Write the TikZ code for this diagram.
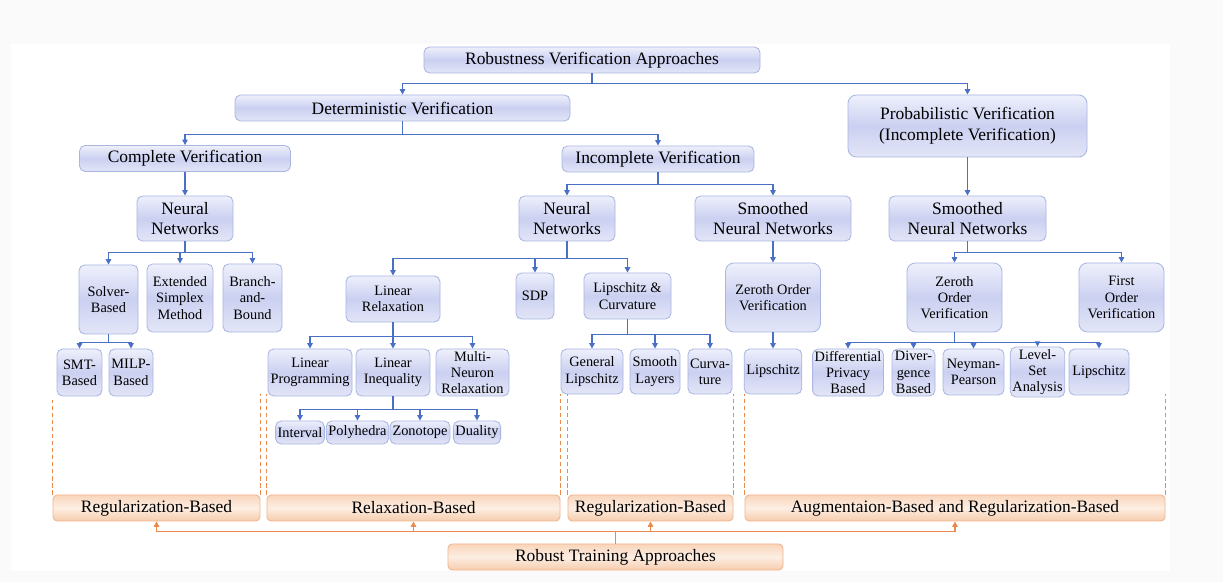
\documentclass[tikz,border=0pt]{standalone}
\usepackage{fontspec}
\setmainfont{Liberation Serif}
\usetikzlibrary{arrows.meta}
\definecolor{vline}{HTML}{A9B6E2}
\definecolor{vtop}{HTML}{EEF0FB}
\definecolor{vmid}{HTML}{CBD0F1}
\definecolor{vbot}{HTML}{E3E6F7}
\definecolor{vflow}{HTML}{4A70C6}
\definecolor{tline}{HTML}{F0B48C}
\definecolor{ttop}{HTML}{F8D5BB}
\definecolor{tmid}{HTML}{FDEEE3}
\definecolor{tbot}{HTML}{F6CCAC}
\definecolor{tflow}{HTML}{EC8A4E}

\begin{document}
\begin{tikzpicture}[
    x=0.025cm, y=-0.025cm,
    sz/.style 2 args={minimum width=#1*0.025cm, minimum height=#2*0.025cm},
    vb/.style={draw=vline, line width=0.6pt, rounded corners=4pt, top color=vtop, bottom color=vbot, middle color=vmid, align=center, inner sep=1.5pt, font=\fontsize{12.4}{14.8}\selectfont},
    sm/.style={font=\fontsize{10.2}{11.6}\selectfont},
    tb/.style={draw=tline, line width=0.6pt, rounded corners=3pt, top color=ttop, bottom color=tbot, middle color=tmid, align=center, inner sep=1.5pt, font=\fontsize{12.4}{14.8}\selectfont},
    arrow/.style={-{Triangle[length=3.8pt,width=3.8pt]}, draw=vflow, line width=0.9pt},
    tarrow/.style={-{Triangle[length=3.8pt,width=3.8pt]}, draw=tflow, line width=0.9pt},
    guide/.style={draw=tflow, line width=0.6pt, dash pattern=on 3pt off 2pt},
]
\fill[black!2] (0,0) rectangle (1223,582);
\fill[white] (11,44) rectangle (1170,571);

\node[vb, sz={336}{26}] (RVA) at (592,60) {Robustness Verification Approaches};
\node[vb, sz={335}{26}] (DV) at (402.5,108) {Deterministic Verification};
\node[vb, sz={239}{62}, rounded corners=6pt] (PV) at (967.5,126) {Probabilistic Verification\\(Incomplete Verification)};
\node[vb, sz={211}{26}] (CV) at (185,158.5) {Complete Verification};
\node[vb, sz={192}{26}] (IV) at (658,159) {Incomplete Verification};
\node[vb, sz={96}{45}] (NN1) at (185,218.5) {Neural\\Networks};
\node[vb, sz={96}{45}] (NN2) at (567,218.5) {Neural\\Networks};
\node[vb, sz={156}{45}] (SN1) at (773,218.5) {Smoothed\\Neural Networks};
\node[vb, sz={157}{45}] (SN2) at (967.5,218.5) {Smoothed\\Neural Networks};

\node[vb, sm, sz={59}{69}] (SB) at (108.5,299.5) {Solver-\\Based};
\node[vb, sm, sz={66}{68}] (ES) at (180,298) {Extended\\Simplex\\Method};
\node[vb, sm, sz={59}{68}] (BB) at (252.5,298) {Branch-\\and-\\Bound};
\node[vb, sm, sz={45}{47}] (SMT) at (79.5,372.5) {SMT-\\Based};
\node[vb, sm, sz={44}{47}] (MILP) at (131,372.5) {MILP-\\Based};

\node[vb, sm, sz={94}{46}] (LR) at (393,299) {Linear\\Relaxation};
\node[vb, sm, sz={38}{46}] (SDP) at (535,296) {SDP};
\node[vb, sm, sz={87}{46}] (LC) at (627.5,296) {Lipschitz \&\\Curvature};
\node[vb, sm, sz={84}{47}] (LP) at (310,372.5) {Linear\\Programming};
\node[vb, sm, sz={74}{47}] (LI) at (393,372.5) {Linear\\Inequality};
\node[vb, sm, sz={73}{47}] (MN) at (472.5,372.5) {Multi-\\Neuron\\Relaxation};
\node[vb, sm, sz={48}{23}] (IN) at (300,432.5) {Interval};
\node[vb, sm, sz={61}{23}] (PH) at (357.5,432.5) {Polyhedra};
\node[vb, sm, sz={60}{23}] (ZT) at (420,432.5) {Zonotope};
\node[vb, sm, sz={46}{23}] (DU) at (477,432.5) {Duality};
\node[vb, sm, sz={62}{45}] (GL) at (592,371.5) {General\\Lipschitz};
\node[vb, sm, sz={50}{45}] (SL) at (655,371.5) {Smooth\\Layers};
\node[vb, sm, sz={44}{45}] (CU) at (710,371.5) {Curva-\\ture};

\node[vb, sm, sz={95}{69}, rounded corners=6pt] (ZO1) at (773,297.5) {Zeroth Order\\Verification};
\node[vb, sm, sz={56}{45}] (LZ1) at (773,371.5) {Lipschitz};

\node[vb, sm, sz={95}{69}, rounded corners=6pt] (ZO2) at (954.5,297.5) {Zeroth\\Order\\Verification};
\node[vb, sm, sz={85}{69}, rounded corners=6pt] (FO) at (1121.5,297.5) {First\\Order\\Verification};
\node[vb, sm, sz={70}{47}] (DP) at (848,372.5) {Differential\\Privacy\\Based};
\node[vb, sm, sz={43}{47}] (DB) at (913.5,372.5) {Diver-\\gence\\Based};
\node[vb, sm, sz={61}{46}] (NP) at (973.5,372) {Neyman-\\Pearson};
\node[vb, sm, sz={53}{46}] (LS) at (1037.5,372) {Level-\\Set\\Analysis};
\node[vb, sm, sz={60}{46}] (LZ2) at (1099,372) {Lipschitz};

\node[tb, sz={207}{26}] (RB1) at (156.5,508) {Regularization-Based};
\node[tb, sz={293}{26}] (RXB) at (413.5,508) {Relaxation-Based};
\node[tb, sz={165}{26}] (RB2) at (650.5,508) {Regularization-Based};
\node[tb, sz={420}{26}] (ARB) at (955,508) {Augmentaion-Based and Regularization-Based};
\node[tb, sz={335}{26}] (RTA) at (615.5,557) {Robust Training Approaches};

\draw[arrow] (RVA.south) -- ++(0,10) -| (DV.north);
\draw[arrow] (RVA.south) -- ++(0,10) -| (PV.north);
\draw[arrow] (DV.south) -- ++(0,13) -| (CV.north);
\draw[arrow] (DV.south) -- ++(0,13) -| (IV.north);
\draw[arrow] (CV.south) -- (NN1.north);
\draw[arrow] (IV.south) -- ++(0,12) -| (NN2.north);
\draw[arrow] (IV.south) -- ++(0,12) -| (SN1.north);
\draw[arrow] (PV.south) -- (SN2.north);

\draw[arrow] (NN1.south) -- ++(0,11) -| (SB.north);
\draw[arrow] (NN1.south) -- ++(0,11) -| (ES.north);
\draw[arrow] (NN1.south) -- ++(0,11) -| (BB.north);
\draw[arrow] (SB.south) -- ++(0,8) -| (SMT.north);
\draw[arrow] (SB.south) -- ++(0,8) -| (MILP.north);

\draw[arrow] (NN2.south) -- ++(0,17) -| (LR.north);
\draw[arrow] (NN2.south) -- ++(0,17) -| (SDP.north);
\draw[arrow] (NN2.south) -- ++(0,17) -| (LC.north);
\draw[arrow] (LR.south) -- ++(0,14) -| (LP.north);
\draw[arrow] (LR.south) -- ++(0,14) -| (LI.north);
\draw[arrow] (LR.south) -- ++(0,14) -| (MN.north);
\draw[arrow] (LI.south) -- ++(0,13) -| (IN.north);
\draw[arrow] (LI.south) -- ++(0,13) -| (PH.north);
\draw[arrow] (LI.south) -- ++(0,13) -| (ZT.north);
\draw[arrow] (LI.south) -- ++(0,13) -| (DU.north);
\draw[arrow] (LC.south) -- ++(0,15) -| (GL.north);
\draw[arrow] (LC.south) -- ++(0,15) -| (SL.north);
\draw[arrow] (LC.south) -- ++(0,15) -| (CU.north);

\draw[arrow] (SN1.south) -- (ZO1.north);
\draw[arrow] (ZO1.south) -- (LZ1.north);

\draw[arrow] (SN2.south) -- ++(0,11) -| (ZO2.north);
\draw[arrow] (SN2.south) -- ++(0,11) -| (FO.north);
\draw[arrow] (ZO2.south) -- ++(0,10) -| (DP.north);
\draw[arrow] (ZO2.south) -- ++(0,10) -| (DB.north);
\draw[arrow] (ZO2.south) -- ++(0,10) -| (NP.north);
\draw[arrow] (ZO2.south) -- ++(0,10) -| (LS.north);
\draw[arrow] (ZO2.south) -- ++(0,10) -| (LZ2.north);

\draw[guide] (RB1.north west) -- ++(0,-95);
\draw[guide] (RB1.north east) -- ++(0,-101);
\draw[guide] (RXB.north west) -- ++(0,-101);
\draw[guide] (RXB.north east) -- ++(0,-101);
\draw[guide] (RB2.north west) -- ++(0,-101);
\draw[guide] (RB2.north east) -- ++(0,-101);
\draw[guide] (ARB.north west) -- ++(0,-101);
\draw[guide] (ARB.north east) -- ++(0,-101);

\draw[tarrow] (RTA.north) -- ++(0,-12) -| (RB1.south);
\draw[tarrow] (RTA.north) -- ++(0,-12) -| (RXB.south);
\draw[tarrow] (RTA.north) -- ++(0,-12) -| (RB2.south);
\draw[tarrow] (RTA.north) -- ++(0,-12) -| (ARB.south);
\end{tikzpicture}
\end{document}
